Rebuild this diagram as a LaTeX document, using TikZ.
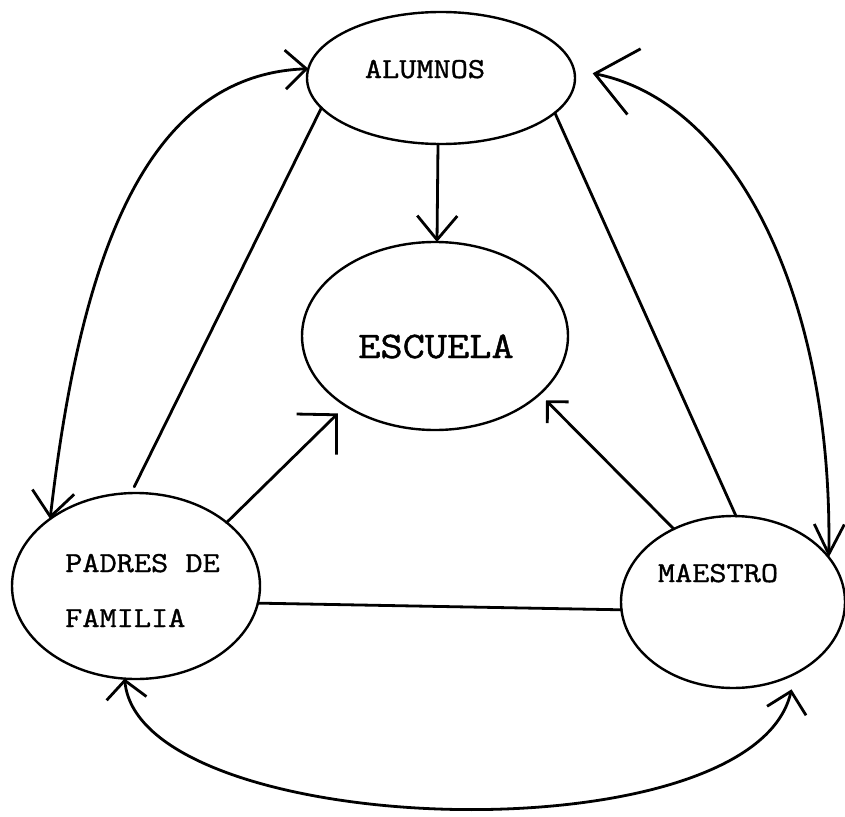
\documentclass[tikz,border=0pt]{standalone}
\usepackage{fontspec}
\newfontfamily\twfont{Latin Modern Mono}[FakeStretch=1.15,FakeBold=1.2]
\usetikzlibrary{arrows.meta,shapes.geometric}
\tikzset{
  ell/.style={draw, ellipse, line width=2.4pt, inner sep=0pt, outer sep=0pt},
  conn/.style={line width=2.8pt, line cap=round},
  lbl/.style={font={\fontsize{29}{34}\twfont}, inner sep=0pt},
  biglbl/.style={font={\fontsize{37.5}{44}\twfont}, inner sep=0pt},
}
\begin{document}
\begin{tikzpicture}[x=1pt,y=-1pt]
\useasboundingbox[fill=white] (0,0) rectangle (845,816);
% ellipses
\node[ell, minimum width=268pt, minimum height=132pt] (A) at (441,78) {};
\node[ell, minimum width=266pt, minimum height=188pt] (E) at (435,336) {};
\node[ell, minimum width=248pt, minimum height=186pt] (P) at (136,586) {};
\node[ell, minimum width=224pt, minimum height=172pt] (M) at (733,602) {};
% labels
\node[lbl, anchor=base] (tA) at (425,78) {ALUMNOS};
\node[biglbl, anchor=base] (tE) at (436,358) {ESCUELA};
\node[lbl, anchor=base west] (tP1) at (65,572) {PADRES DE};
\node[lbl, anchor=base west] (tP2) at (65,627) {FAMILIA};
\node[lbl, anchor=base] (tM) at (718,582) {MAESTRO};
% free ends
\coordinate (aR) at ([xshift=18pt]A.2);
\coordinate (mB) at ([shift={(7pt,-11pt)}]M.304);
% straight connectors
\draw[conn, -{Straight Barb[length=24pt,width=40pt]}] ([xshift=-3pt]A.south) -- ([xshift=2pt]E.north);
\draw[conn, shorten >=7pt] (A.194) -- (P.93);
\draw[conn, shorten >=11pt, -{Straight Barb[length=28pt,width=57pt]}] (P.35) -- (E.218);
\draw[conn, shorten >=9pt, -{Straight Barb[length=15pt,width=30pt]}] (M.129) -- (E.331);
\draw[conn] (P.352) -- (M.184);
\draw[conn] (M.88) -- (A.343);
% curved double arrows
\draw[conn, {Straight Barb[length=25pt,width=42pt]}-{Straight Barb[length=21pt,width=39pt]}]
  (P.142) .. controls (79,270) and (140,75) .. (A.176);
\draw[conn, {Straight Barb[length=40pt,width=67pt]}-{Straight Barb[length=30pt,width=30pt]}]
  (aR) .. controls (740,103) and (833,305) .. (M.25);
\draw[conn, {Straight Barb[length=18pt,width=40pt]}-{Straight Barb[length=20pt,width=40pt]}]
  (P.263) .. controls (140,840) and (752,860) .. (mB);
\end{tikzpicture}
\end{document}
